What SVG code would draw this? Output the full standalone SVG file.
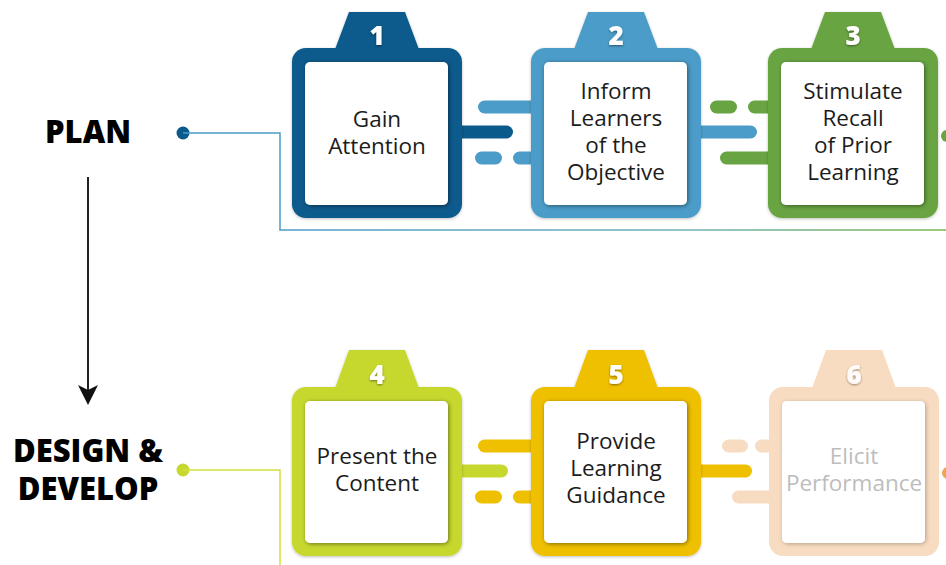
<svg xmlns="http://www.w3.org/2000/svg" width="946" height="565" viewBox="0 0 946 565">
<defs>
<linearGradient id="gline" x1="280" y1="0" x2="946" y2="0" gradientUnits="userSpaceOnUse">
<stop offset="0" stop-color="#4b9cc8"/>
<stop offset="0.6" stop-color="#6fb0b8"/>
<stop offset="1" stop-color="#7ab648"/>
</linearGradient>
<filter id="inset" x="-20%" y="-20%" width="140%" height="140%">
<feDropShadow dx="1" dy="1" stdDeviation="2.2" flood-color="#000" flood-opacity="0.45"/>
</filter>
<filter id="outer" x="-20%" y="-20%" width="140%" height="140%">
<feDropShadow dx="0" dy="1" stdDeviation="1.5" flood-color="#000" flood-opacity="0.25"/>
</filter>
<filter id="num" x="-50%" y="-50%" width="200%" height="200%">
<feDropShadow dx="0" dy="1" stdDeviation="1.2" flood-color="#000" flood-opacity="0.45"/>
</filter>
<marker id="arr" viewBox="0 0 20 20" refX="18" refY="10" markerWidth="20" markerHeight="20" markerUnits="userSpaceOnUse" orient="auto">
<path d="M0,0 L20,10 L0,20 L5,10 Z" fill="#111"/>
</marker>
</defs>
<style>
.bar{fill:none;stroke-width:13;stroke-linecap:round}
.lab{font-family:"Open Sans","Liberation Sans",sans-serif;font-size:22.5px;fill:#1c1c1c;text-anchor:middle}
.num{font-family:"Open Sans","Liberation Sans",sans-serif;font-size:26px;font-weight:800;fill:#fff;text-anchor:middle}
.phase{font-family:"Open Sans","Liberation Sans",sans-serif;font-size:31px;font-weight:800;fill:#000;text-anchor:middle}
.inner{fill:#fff}
</style>
<rect width="946" height="565" fill="#fff"/>

<g id="connectors">
<circle cx="183" cy="133" r="6.5" fill="#0a5a8c"/>
<polyline points="183,133 280,133 280,230" fill="none" stroke="#4b9cc8" stroke-width="1.5"/>
<line x1="279.25" y1="230" x2="946" y2="230" stroke="url(#gline)" stroke-width="1.5"/>
<circle cx="183" cy="470" r="6.5" fill="#c6d82e"/>
<polyline points="183,470 280,470 280,565" fill="none" stroke="#d4df3a" stroke-width="1.5"/>
<line x1="88" y1="177" x2="88" y2="403" stroke="#222" stroke-width="2" marker-end="url(#arr)"/>
<line class="bar" x1="484.5" y1="107" x2="540" y2="107" stroke="#4b9cc8"/>
<line class="bar" x1="455" y1="132" x2="506.5" y2="132" stroke="#0a5a8c"/>
<line class="bar" x1="481.5" y1="158" x2="495.5" y2="158" stroke="#4b9cc8"/>
<line class="bar" x1="519.5" y1="158" x2="540" y2="158" stroke="#4b9cc8"/>
<line class="bar" x1="716.5" y1="107" x2="730.5" y2="107" stroke="#69a443"/>
<line class="bar" x1="754.5" y1="107" x2="776" y2="107" stroke="#69a443"/>
<line class="bar" x1="695" y1="132" x2="750.5" y2="132" stroke="#4b9cc8"/>
<line class="bar" x1="726.5" y1="158" x2="776" y2="158" stroke="#69a443"/>
<circle cx="947" cy="136" r="6" fill="#69a443"/>
<line class="bar" x1="484.5" y1="446" x2="540" y2="446" stroke="#efc000"/>
<line class="bar" x1="455" y1="471" x2="501.5" y2="471" stroke="#c6d82e"/>
<line class="bar" x1="481.5" y1="497" x2="495.5" y2="497" stroke="#efc000"/>
<line class="bar" x1="519.5" y1="497" x2="540" y2="497" stroke="#efc000"/>
<line class="bar" x1="728.5" y1="446" x2="741.5" y2="446" stroke="#f7dcc1"/>
<line class="bar" x1="761.5" y1="446" x2="778" y2="446" stroke="#f7dcc1"/>
<line class="bar" x1="695" y1="471" x2="745.5" y2="471" stroke="#efc000"/>
<line class="bar" x1="738.5" y1="497" x2="778" y2="497" stroke="#f7dcc1"/>
<circle cx="948" cy="473" r="6" fill="#f0a34c"/>
</g>

<g id="node1">
<g fill="#0a5a8c" filter="url(#outer)">
<polygon points="349,12 405,12 420,52 334,52"/>
<rect x="292" y="48" width="170" height="170" rx="14"/>
</g>
<rect class="inner" x="305" y="62" width="143" height="143" rx="5" filter="url(#inset)"/>
<text class="num" x="377" y="45" filter="url(#num)">1</text>
<text class="lab" x="377" y="127"><tspan x="377">Gain</tspan><tspan x="377" dy="27">Attention</tspan></text>
</g>

<g id="node2">
<g fill="#4b9cc8" filter="url(#outer)">
<polygon points="588,12 644,12 659,52 573,52"/>
<rect x="531" y="48" width="170" height="170" rx="14"/>
</g>
<rect class="inner" x="544" y="62" width="143" height="143" rx="5" filter="url(#inset)"/>
<text class="num" x="616" y="45" filter="url(#num)">2</text>
<text class="lab" x="616" y="99"><tspan x="616">Inform</tspan><tspan x="616" dy="27">Learners</tspan><tspan x="616" dy="27">of the</tspan><tspan x="616" dy="27">Objective</tspan></text>
</g>

<g id="node3">
<g fill="#69a443" filter="url(#outer)">
<polygon points="825,12 881,12 896,52 810,52"/>
<rect x="768" y="48" width="170" height="170" rx="14"/>
</g>
<rect class="inner" x="781" y="62" width="143" height="143" rx="5" filter="url(#inset)"/>
<text class="num" x="853" y="45" filter="url(#num)">3</text>
<text class="lab" x="853" y="99"><tspan x="853">Stimulate</tspan><tspan x="853" dy="27">Recall</tspan><tspan x="853" dy="27">of Prior</tspan><tspan x="853" dy="27">Learning</tspan></text>
</g>

<g id="node4">
<g fill="#c6d82e" filter="url(#outer)">
<polygon points="349,350 405,350 420,391 334,391"/>
<rect x="292" y="387" width="170" height="169" rx="14"/>
</g>
<rect class="inner" x="305" y="401" width="143" height="142" rx="5" filter="url(#inset)"/>
<text class="num" x="377" y="384" filter="url(#num)">4</text>
<text class="lab" x="377" y="464"><tspan x="377">Present the</tspan><tspan x="377" dy="27">Content</tspan></text>
</g>

<g id="node5">
<g fill="#efc000" filter="url(#outer)">
<polygon points="588,350 644,350 659,391 573,391"/>
<rect x="531" y="387" width="170" height="169" rx="14"/>
</g>
<rect class="inner" x="544" y="401" width="143" height="142" rx="5" filter="url(#inset)"/>
<text class="num" x="616" y="384" filter="url(#num)">5</text>
<text class="lab" x="616" y="449"><tspan x="616">Provide</tspan><tspan x="616" dy="27">Learning</tspan><tspan x="616" dy="27">Guidance</tspan></text>
</g>

<g id="node6">
<g fill="#f7dcc1">
<polygon points="826,350 882,350 897,391 811,391"/>
<rect x="769" y="387" width="170" height="169" rx="14"/>
</g>
<rect class="inner" x="782" y="401" width="143" height="142" rx="5" filter="url(#inset)" style="opacity:0.6"/>
<rect x="782" y="401" width="143" height="142" rx="5" fill="#fff"/>
<text class="num" x="854" y="384" filter="url(#num)" style="opacity:0.9">6</text>
<text class="lab" x="854" y="464" style="fill:#bdbdbd"><tspan x="854">Elicit</tspan><tspan x="854" dy="27">Performance</tspan></text>
</g>

<g id="phase-plan">
<text class="phase" x="88" y="143">PLAN</text>
</g>
<g id="phase-design">
<text class="phase" x="88" y="462"><tspan x="88">DESIGN &amp;</tspan><tspan x="88" dy="38">DEVELOP</tspan></text>
</g>
</svg>
